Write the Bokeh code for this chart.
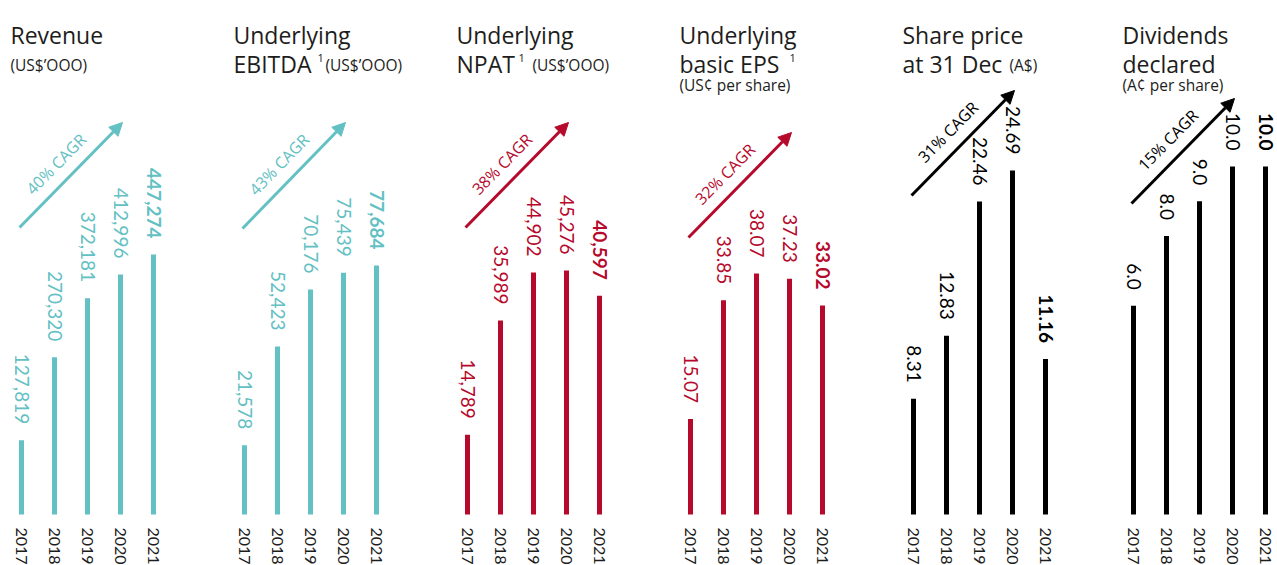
import math
from bokeh.plotting import figure
from bokeh.models import Range1d, Label, Arrow, NormalHead, ColumnDataSource
from bokeh.layouts import row
from bokeh.embed import file_html
from bokeh.resources import INLINE
from bokeh.core.properties import value, field

# ---------------- data ----------------
years = ["2017", "2018", "2019", "2020", "2021"]
revenue = [127819, 270320, 372181, 412996, 447274]
ebitda = [21578, 52423, 70176, 75439, 77684]
npat = [14789, 35989, 44902, 45276, 40597]
eps = [15.07, 33.85, 38.07, 37.23, 33.02]
share_price = [8.31, 12.83, 22.46, 24.69, 11.16]
dividends = [6.0, 8.0, 9.0, 10.0, 10.0]
cagr_labels = ["40% CAGR", "43% CAGR", "38% CAGR", "32% CAGR", "31% CAGR", "15% CAGR"]

# ---------------- style / layout ----------------
TEAL = "#63C0C3"
RED = "#B60A2C"
BLACK = "#000000"
INK = "#1d1d1b"
TITLE_FONT = "Open Sans"
NUM_FONT = "Lato"

PAGE_W = 1277
PAGE_H = 565
MARGIN = 8             # visual left margin of the first panel
PANEL_STEP = 223
LAST_NUDGE = -3        # keep the last panel's texts inside the window
BASE_PX = 514          # screen y of the bars' baseline
BAR0 = 13              # first bar offset from panel origin (px)
STEP = 33              # px between bars
N_PANELS = 6

panels = [
    dict(vals=revenue, fmt="{:,.0f}", color=TEAL, top_px=254,
         title=[("Revenue", 0, 34)], sub=[("(US$’OOO)", 0, 64)], sup=[],
         arrow=(227, 122)),
    dict(vals=ebitda, fmt="{:,.0f}", color=TEAL, top_px=265,
         title=[("Underlying", 0, 34), ("EBITDA", 0, 63)],
         sub=[("(US$’OOO)", 92, 64)], sup=[("1", 84, 57)],
         arrow=(228, 122)),
    dict(vals=npat, fmt="{:,.0f}", color=RED, top_px=270,
         title=[("Underlying", 0, 34), ("NPAT", 0, 63)],
         sub=[("(US$’OOO)", 76, 64)], sup=[("1", 62, 57)],
         arrow=(227, 122)),
    dict(vals=eps, fmt="{:.2f}", color=RED, top_px=273,
         title=[("Underlying", 0, 34), ("basic EPS", 0, 63)],
         sub=[("(US¢ per share)", 0, 84)], sup=[("1", 110, 57)],
         arrow=(237, 132)),
    dict(vals=share_price, fmt="{:.2f}", color=BLACK, top_px=170,
         title=[("Share price", 0, 34), ("at 31 Dec", 0, 63)],
         sub=[("(A$)", 107, 64)], sup=[],
         arrow=(195, 90)),
    dict(vals=dividends, fmt="{:.1f}", color=BLACK, top_px=166,
         title=[("Dividends", 0, 34), ("declared", 0, 63)],
         sub=[("(A¢ per share)", 0, 84)], sup=[],
         arrow=(203, 98)),
]

origins = [MARGIN + PANEL_STEP * k for k in range(N_PANELS)]
origins[-1] += LAST_NUDGE
fig_lefts = [0] + origins[1:]
fig_rights = origins[1:] + [PAGE_W]

figs = []
for k, pnl in enumerate(panels):
    org = origins[k]
    fl, fr = fig_lefts[k], fig_rights[k]
    w = fr - fl
    vals = pnl["vals"]
    s = (BASE_PX - pnl["top_px"]) / max(vals)       # px per unit
    bar0_px = org + BAR0
    p = figure(width=w, height=PAGE_H, output_backend="svg", toolbar_location=None,
               x_axis_type=None, y_axis_type=None,
               x_range=Range1d((fl - bar0_px) / STEP, (fr - bar0_px) / STEP),
               y_range=Range1d(-(PAGE_H - BASE_PX) / s, BASE_PX / s),
               min_border=0, outline_line_color=None,
               background_fill_color="white", border_fill_color="white")
    p.extra_x_ranges = {"px": Range1d(fl, fr)}
    p.extra_y_ranges = {"px": Range1d(PAGE_H, 0)}
    p.xgrid.visible = False
    p.ygrid.visible = False

    idx = list(range(len(years)))
    src = ColumnDataSource(dict(
        x=idx, y=vals, year=years,
        label=[pnl["fmt"].format(v) for v in vals],
        style=["normal"] * (len(vals) - 1) + ["bold"],
        zero=[0] * len(vals),
    ))
    p.vbar(x="x", top="y", bottom=0, width=5 / STEP, source=src,
           fill_color=pnl["color"], line_color=None)
    p.text(x="x", y="y", text="label", source=src, angle=-math.pi / 2,
           text_align="right", text_baseline="middle", y_offset=-16,
           text_font=value(NUM_FONT), text_font_size="19px",
           text_font_style=field("style"), text_color=pnl["color"])
    p.text(x="x", y="zero", text="year", source=src, angle=-math.pi / 2,
           text_align="left", text_baseline="middle", y_offset=13,
           text_font=value(NUM_FONT), text_font_size="16px", text_color=INK)

    # titles
    for txt, dx, y in pnl["title"]:
        p.add_layout(Label(x=org + 2 + dx, y=y, x_range_name="px", y_range_name="px",
                           text=txt, text_font=TITLE_FONT, text_font_size="23px",
                           text_color=INK, text_baseline="alphabetic", text_align="left"))
    for txt, dx, y in pnl["sub"]:
        p.add_layout(Label(x=org + 2 + dx, y=y, x_range_name="px", y_range_name="px",
                           text=txt, text_font=TITLE_FONT, text_font_size="15.5px",
                           text_color=INK, text_baseline="alphabetic", text_align="left"))
    for txt, dx, y in pnl["sup"]:
        p.add_layout(Label(x=org + 2 + dx, y=y, x_range_name="px", y_range_name="px",
                           text=txt, text_font=TITLE_FONT, text_font_size="11px",
                           text_color=INK, text_baseline="alphabetic", text_align="left"))

    # CAGR arrow
    y0, y1 = pnl["arrow"]
    x0, x1 = org + 11, org + 114
    p.add_layout(Arrow(x_start=x0, y_start=y0, x_end=x1, y_end=y1,
                       x_range_name="px", y_range_name="px",
                       line_color=pnl["color"], line_width=3,
                       end=NormalHead(size=13, fill_color=pnl["color"], line_color=pnl["color"])))
    ang = math.atan2(y0 - y1, x1 - x0)
    p.add_layout(Label(x=(x0 + x1) / 2 - 15, y=(y0 + y1) / 2 - 11,
                       x_range_name="px", y_range_name="px", angle=ang,
                       text=cagr_labels[k], text_font=TITLE_FONT, text_font_size="16px",
                       text_color=pnl["color"], text_align="center", text_baseline="middle"))
    figs.append(p)

layout = row(*figs, spacing=0)
open("out.html", "w").write(file_html(layout, INLINE))
